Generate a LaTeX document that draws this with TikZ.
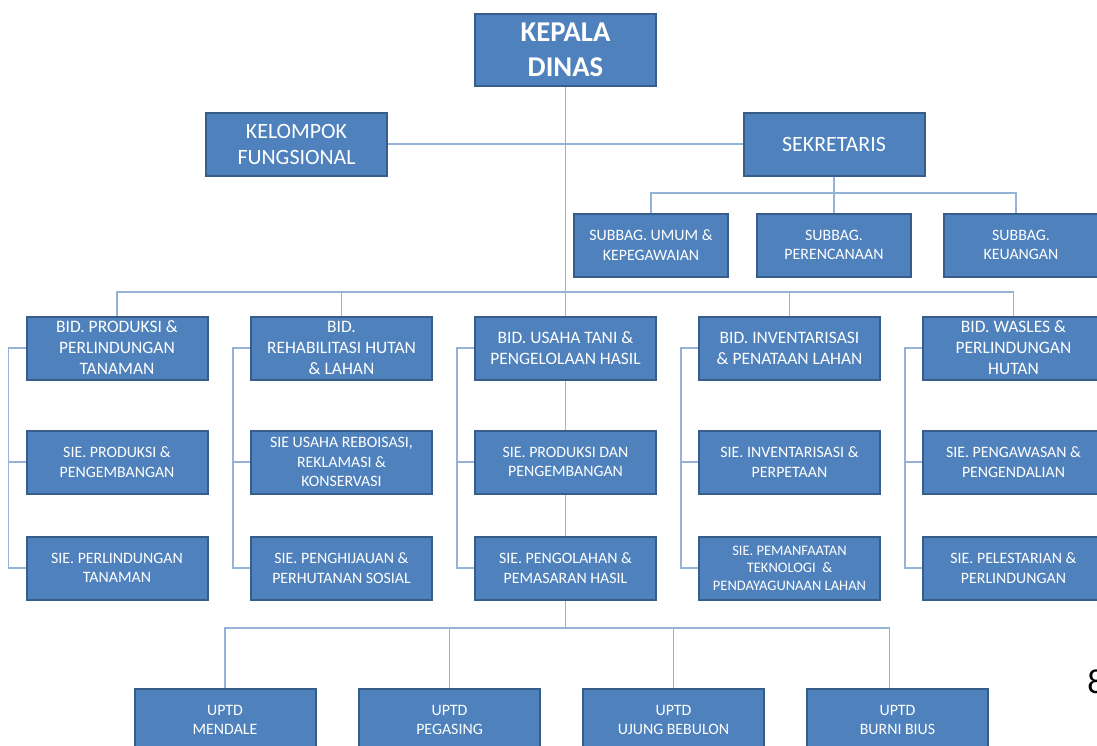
\documentclass[tikz,border=0pt]{standalone}
\usepackage{fontspec}
\setmainfont{Carlito}
\usetikzlibrary{calc}

\definecolor{boxfill}{RGB}{79,129,189}
\definecolor{boxline}{RGB}{56,93,138}
\definecolor{linkblue}{RGB}{149,179,215}

\tikzset{
  orgbox/.style={draw=boxline, fill=boxfill, line width=1.5pt, text=white, align=center,
    inner sep=0pt, minimum width=135.75pt, minimum height=47.25pt},
  subbox/.style={orgbox, minimum width=115.5pt},
  link/.style={draw=linkblue, line width=1.1pt},
  fbig/.style={font=\fontsize{21.5}{26}\selectfont\bfseries},
  fmid/.style={font=\fontsize{16.4}{19.5}\selectfont},
  fbid/.style={font=\fontsize{13.1}{15.75}\selectfont},
  fsie/.style={font=\fontsize{11.9}{14.6}\selectfont},
  fsmall/.style={font=\fontsize{10.9}{13.1}\selectfont},
}

\begin{document}
\begin{tikzpicture}[x=0.75pt,y=0.75pt,yscale=-1,xscale=1]
\useasboundingbox (0,0) rectangle (1097,746);

% top
\node [orgbox, fbig, minimum height=54pt] (kd) at (565.5,50) {KEPALA\\DINAS};
\node [orgbox, fmid] (kf) at (296.5,144) {KELOMPOK\\FUNGSIONAL};
\node [orgbox, fmid] (sek) at (834,144) {SEKRETARIS};

% subbag
\node [subbox, fsie] (sb1) at (651,245) {SUBBAG. UMUM \&\\KEPEGAWAIAN};
\node [subbox, fsie] (sb2) at (834,245) {SUBBAG.\\PERENCANAAN};
\node [subbox, fsie] (sb3) at (1021,245) {SUBBAG.\\KEUANGAN};

% bidang
\node [orgbox, fbid] (bid1) at (117,348) {BID. PRODUKSI \&\\PERLINDUNGAN\\TANAMAN};
\node [orgbox, fbid] (bid2) at (341.5,348) {BID.\\REHABILITASI HUTAN\\\& LAHAN};
\node [orgbox, fbid] (bid3) at (565.5,348) {BID. USAHA TANI \&\\PENGELOLAAN HASIL};
\node [orgbox, fbid] (bid4) at (789.5,348) {BID. INVENTARISASI\\\& PENATAAN LAHAN};
\node [orgbox, fbid] (bid5) at (1013.5,348) {BID. WASLES \&\\PERLINDUNGAN\\HUTAN};

% seksi
\node [orgbox, fsie] (sie11) at (117,462) {SIE. PRODUKSI \&\\PENGEMBANGAN};
\node [orgbox, fsie] (sie12) at (117,568) {SIE. PERLINDUNGAN\\TANAMAN};
\node [orgbox, fsie] (sie21) at (341.5,462) {SIE USAHA REBOISASI,\\REKLAMASI \&\\KONSERVASI};
\node [orgbox, fsie] (sie22) at (341.5,568) {SIE. PENGHIJAUAN \&\\PERHUTANAN SOSIAL};
\node [orgbox, fsie] (sie31) at (565.5,462) {SIE. PRODUKSI DAN\\PENGEMBANGAN};
\node [orgbox, fsie] (sie32) at (565.5,568) {SIE. PENGOLAHAN \&\\PEMASARAN HASIL};
\node [orgbox, fsie] (sie41) at (789.5,462) {SIE. INVENTARISASI \&\\PERPETAAN};
\node [orgbox, fsmall] (sie42) at (789.5,568) {SIE. PEMANFAATAN\\TEKNOLOGI ~\&\\PENDAYAGUNAAN LAHAN};
\node [orgbox, fsie] (sie51) at (1013.5,462) {SIE. PENGAWASAN \&\\PENGENDALIAN};
\node [orgbox, fsie] (sie52) at (1013.5,568) {SIE. PELESTARIAN \&\\PERLINDUNGAN};

% uptd
\node [orgbox, fsie] (up1) at (225,720) {UPTD\\MENDALE};
\node [orgbox, fsie] (up2) at (449.5,720) {UPTD\\PEGASING};
\node [orgbox, fsie] (up3) at (673.5,720) {UPTD\\UJUNG BEBULON};
\node [orgbox, fsie] (up4) at (897.5,720) {UPTD\\BURNI BIUS};

% page number
\node [anchor=west, inner sep=0pt, font=\fontsize{26}{30}\selectfont] (pg) at (1087,682) {8};

% bus points
\coordinate (sekbus) at (834,193);
\coordinate (bidbus) at (565.5,292);
\coordinate (upbus) at (565.5,628);

% connectors
\draw [link] (kd.south) -- (bid3.north);
\draw [link] (kf.east) -- (sek.west);
\draw [link] (sek.south) -- (sb2.north);
\draw [link] (sb1.north) |- (sekbus) -| ([xshift=-3.75pt]sb3.north);
\draw [link] (bid1.north) |- (bidbus) -| (bid5.north);
\draw [link] (bid2.north) -- (bid2.north |- bidbus);
\draw [link] (bid4.north) -- (bid4.north |- bidbus);
\foreach \c in {1,2,3,4,5}{
  \draw [link] (bid\c.west) -- ++(-17,0) |- (sie\c2.west);
  \draw [link] (sie\c1.west) -- ++(-17,0);
}
\draw [link] (bid3.south) -- (sie31.north);
\draw [link] (sie31.south) -- (sie32.north);
\draw [link] (sie32.south) -- (upbus);
\draw [link] (up1.north) |- (upbus) -| ([xshift=-6pt]up4.north);
\draw [link] (up2.north) -- (up2.north |- upbus);
\draw [link] (up3.north) -- (up3.north |- upbus);

\end{tikzpicture}
\end{document}
